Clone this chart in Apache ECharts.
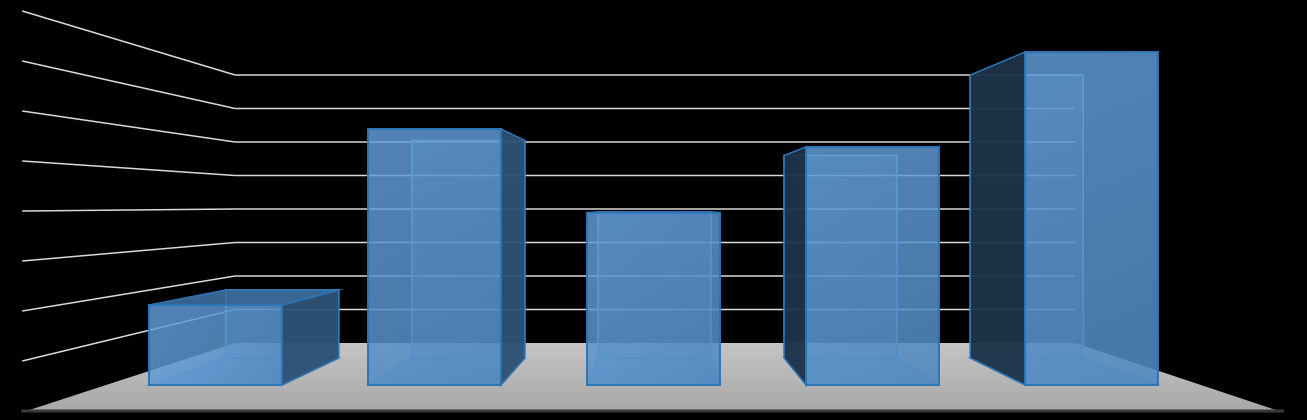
<!DOCTYPE html>
<html><head><meta charset="utf-8">
<script src="https://cdn.jsdelivr.net/npm/echarts@6/dist/echarts.min.js"></script>
<style>html,body{margin:0;background:#000}#c{width:1307px;height:420px}</style></head>
<body><div id="c"></div>
<script>
const categories = ['A','B','C','D','E'];
const values = [1.83, 5.86, 3.94, 5.45, 7.62];
const gridLevels = [1,2,3,4,5,6,7,8];

const VP = [660, 205], S_BACK = 0.85, S_WALL = 0.767, S_FRONT = 1.144;
function proj(p, s){ return [VP[0] + s*(p[0]-VP[0]), VP[1] + s*(p[1]-VP[1])]; }

const chart = echarts.init(document.getElementById('c'));
chart.setOption({
  backgroundColor: '#000',
  animation: false,
  grid: {left:106, right:106, top:35.5, bottom:35},
  xAxis: {type:'category', data:categories, show:false},
  yAxis: {type:'value', min:0, max:8, show:false},
  series: [
    { type:'custom', data:[[0,0]], z:1,
      renderItem(params, api){
        const cs = params.coordSys;
        const L = cs.x, R = cs.x + cs.width, B = cs.y + cs.height;
        const ch = [];
        ch.push({type:'polygon', shape:{points:[proj([L,B],S_WALL),proj([R,B],S_WALL),proj([R,B],S_FRONT),proj([L,B],S_FRONT)]},
          style:{fill:new echarts.graphic.LinearGradient(0,0,0,1,[{offset:0,color:'#c4c4c4'},{offset:1,color:'#a8a8a8'}])}});
        ch.push({type:'line', shape:{x1:proj([L,B],S_FRONT)[0]-5,y1:proj([L,B],S_FRONT)[1],x2:proj([R,B],S_FRONT)[0]+5,y2:proj([R,B],S_FRONT)[1]},
          style:{stroke:'#3a3a3a',lineWidth:3}});
        gridLevels.forEach(v=>{
          const y = api.coord([0,v])[1];
          const a = proj([L,y],S_WALL), b = proj([R,y],S_WALL), f = proj([L,y],S_FRONT);
          ch.push({type:'line', shape:{x1:a[0],y1:a[1],x2:b[0],y2:b[1]}, style:{stroke:'#d9d9d9',lineWidth:1.5}});
          ch.push({type:'line', shape:{x1:f[0]-4,y1:f[1],x2:a[0],y2:a[1]}, style:{stroke:'#d9d9d9',lineWidth:1.5}});
        });
        return {type:'group', children:ch};
      }
    },
    { type:'custom', data:values.map((v,i)=>[i,v]), z:2,
      renderItem(params, api){
        const i = api.value(0);
        const top = api.coord([i, api.value(1)]), bot = api.coord([i, 0]);
        const w = api.size([1,0])[0]*0.607;
        const x0 = top[0]-w/2, x1 = top[0]+w/2, yt = top[1], yb = bot[1];
        const F = {tl:[x0,yt],tr:[x1,yt],bl:[x0,yb],br:[x1,yb]};
        const K = {}; for (const k in F) K[k] = proj(F[k], S_BACK);
        const edge = '#2e75b6', inner = '#5b9bd5';
        const ch = [];
        ch.push({type:'polygon', shape:{points:[K.tl,K.tr,K.br,K.bl]}, style:{fill:'rgba(70,120,170,0.35)',stroke:inner,lineWidth:1.5}});
        ch.push({type:'polygon', shape:{points:[F.bl,F.br,K.br,K.bl]}, style:{fill:'rgba(91,155,213,0.5)',stroke:inner,lineWidth:1.5}});
        if (top[0] < VP[0]-40) {
          ch.push({type:'polygon', shape:{points:[F.tr,F.br,K.br,K.tr]}, style:{fill:'rgba(45,80,115,0.95)',stroke:edge,lineWidth:1.5}});
        } else if (top[0] > VP[0]+40) {
          ch.push({type:'polygon', shape:{points:[F.tl,F.bl,K.bl,K.tl]}, style:{fill:'rgba(30,50,72,0.95)',stroke:edge,lineWidth:1.5}});
        }
        if (yt > VP[1]) ch.push({type:'polygon', shape:{points:[F.tl,F.tr,K.tr,K.tl]}, style:{fill:'rgba(60,110,160,0.9)',stroke:edge,lineWidth:1.5}});
        ch.push({type:'polygon', shape:{points:[F.tl,F.tr,F.br,F.bl]},
          style:{fill:new echarts.graphic.LinearGradient(0,0,1,1,[{offset:0,color:'rgba(100,160,220,0.82)'},{offset:1,color:'rgba(80,135,190,0.88)'}]),stroke:edge,lineWidth:2}});
        return {type:'group', children:ch};
      }
    }
  ]
});
</script></body></html>
